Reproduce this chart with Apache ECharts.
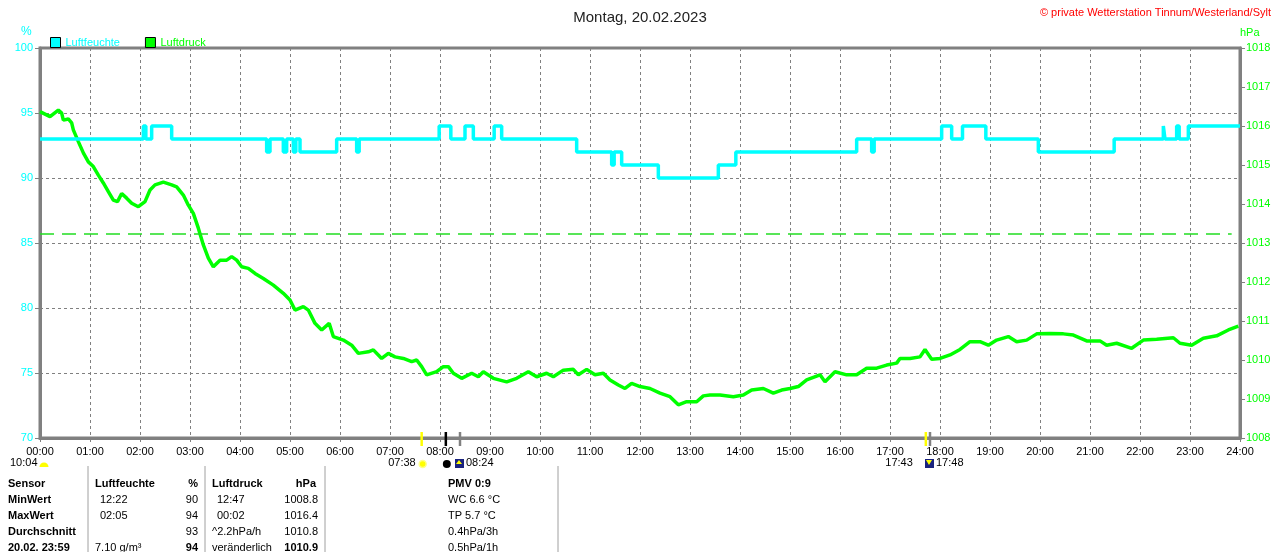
<!DOCTYPE html>
<html><head><meta charset="utf-8">
<script src="https://cdn.jsdelivr.net/npm/echarts@6/dist/echarts.min.js"></script>
<style>html,body{margin:0;padding:0;background:#fff}#c{width:1280px;height:552px}</style>
</head><body><div id="c"></div>
<script>
// ---- data ----
const hourTicks = ['00:00','01:00','02:00','03:00','04:00','05:00','06:00','07:00','08:00','09:00','10:00','11:00','12:00','13:00','14:00','15:00','16:00','17:00','18:00','19:00','20:00','21:00','22:00','23:00','24:00'];
// humidity (%) step changes: minute of day -> value from that minute
const humTimes = [0,124,127,134,158,272,276,292,296,304,307,312,356,380,383,479,493,510,520,545,554,644,686,689,698,742,814,835,980,998,1001,1082,1094,1107,1135,1198,1289,1348,1350,1364,1367,1378,1440];
const humValues = [93,94,93,94,93,92,93,92,93,92,93,92,93,92,93,94,93,94,93,94,93,92,91,92,91,90,91,92,93,92,93,94,93,94,93,92,93,94,93,94,93,94,94];
// pressure (hPa)
const pressTimes = [0,12,22,26,28,34,38,40,46,52,58,64,70,76,82,88,93,98,104,110,118,126,132,138,148,158,164,172,178,184,190,196,202,208,216,224,230,236,242,250,258,268,280,292,300,306,316,322,330,338,347,352,364,374,382,394,400,410,418,426,436,446,452,458,464,476,484,490,496,506,518,526,532,544,560,572,586,596,608,616,628,640,646,656,666,676,684,694,702,710,720,732,744,756,766,776,788,796,804,816,832,844,854,868,880,890,900,910,920,936,942,954,968,980,992,1004,1016,1028,1032,1044,1056,1062,1070,1080,1092,1104,1116,1128,1138,1148,1162,1172,1184,1196,1212,1228,1240,1256,1272,1280,1292,1310,1324,1340,1360,1368,1382,1396,1412,1426,1438];
const pressValues = [1016.37,1016.24,1016.41,1016.33,1016.15,1016.18,1016.08,1015.90,1015.60,1015.31,1015.08,1014.96,1014.74,1014.54,1014.32,1014.10,1014.06,1014.27,1014.15,1014.02,1013.93,1014.06,1014.36,1014.49,1014.56,1014.49,1014.44,1014.23,1013.97,1013.76,1013.38,1012.95,1012.61,1012.39,1012.56,1012.56,1012.65,1012.56,1012.39,1012.35,1012.22,1012.09,1011.92,1011.71,1011.54,1011.28,1011.37,1011.28,1010.94,1010.77,1010.94,1010.60,1010.51,1010.38,1010.17,1010.21,1010.26,1010.04,1010.17,1010.08,1010.04,1009.96,1010.00,1009.83,1009.62,1009.70,1009.83,1009.83,1009.66,1009.53,1009.66,1009.57,1009.70,1009.53,1009.44,1009.53,1009.70,1009.57,1009.66,1009.57,1009.74,1009.76,1009.62,1009.76,1009.62,1009.66,1009.49,1009.36,1009.27,1009.40,1009.32,1009.27,1009.15,1009.06,1008.85,1008.93,1008.93,1009.08,1009.10,1009.10,1009.06,1009.10,1009.23,1009.27,1009.15,1009.23,1009.27,1009.32,1009.49,1009.62,1009.44,1009.70,1009.62,1009.62,1009.79,1009.79,1009.87,1009.92,1010.04,1010.04,1010.08,1010.27,1010.02,1010.04,1010.13,1010.27,1010.47,1010.47,1010.38,1010.51,1010.60,1010.47,1010.51,1010.67,1010.68,1010.67,1010.64,1010.49,1010.49,1010.38,1010.43,1010.30,1010.51,1010.53,1010.57,1010.43,1010.38,1010.56,1010.62,1010.77,1010.87];
const refPressure = 1013.25;
const humTicks = [70,75,80,85,90,95,100];
const pressTicks = [1008,1009,1010,1011,1012,1013,1014,1015,1016,1017,1018];
// sun / moon event markers on the time axis (minutes) and colours
const eventTimes = [458, 487, 504, 1063, 1068];
const eventColors = ['#FFFF00', '#000000', '#808080', '#FFFF00', '#808080'];
// statistics table
const tableRows = [
  ['Sensor','Luftfeuchte','%','Luftdruck','hPa','PMV 0:9'],
  ['MinWert','12:22','90','12:47','1008.8','WC 6.6 °C'],
  ['MaxWert','02:05','94','00:02','1016.4','TP 5.7 °C'],
  ['Durchschnitt','','93','^2.2hPa/h','1010.8','0.4hPa/3h'],
  ['20.02. 23:59','7.10 g/m³','94','veränderlich','1010.9','0.5hPa/1h']
];

// ---- chart ----
const FONT = 'Liberation Sans, Arial, sans-serif';
const chart = echarts.init(document.getElementById('c'), null, {renderer:'canvas'});
const humData = humTimes.map((t,i)=>[t, humValues[i]]);
const pressData = pressTimes.map((t,i)=>[t, pressValues[i]]);

chart.setOption({
  animation:false,
  backgroundColor:'#fff',
  textStyle:{fontFamily:FONT},
  title:[
    {text:'Montag, 20.02.2023', left:'center', top:5, textStyle:{fontSize:15, fontWeight:'normal', color:'#222', fontFamily:FONT}},
    {text:'© private Wetterstation Tinnum/Westerland/Sylt', right:4, top:2, textStyle:{fontSize:11, fontWeight:'normal', color:'#FF0000', fontFamily:FONT}}
  ],
  legend:{
    left:45, top:32, icon:'rect', itemWidth:10, itemHeight:10, itemGap:25,
    itemStyle:{borderColor:'#000', borderWidth:1},
    textStyle:{fontSize:11, fontFamily:FONT},
    data:[{name:'Luftfeuchte', textStyle:{color:'#00FFFF'}},{name:'Luftdruck', textStyle:{color:'#00FF00'}}]
  },
  grid:{left:40, right:40, top:48, bottom:114, show:true, borderColor:'#808080', borderWidth:3, containLabel:false},
  xAxis:{
    type:'value', min:0, max:1440, interval:60,
    axisLine:{show:true, lineStyle:{color:'#808080', width:3}},
    axisTick:{show:true, inside:false, length:4, lineStyle:{color:'#808080'}},
    axisLabel:{color:'#000', fontSize:11, margin:8, fontFamily:FONT, formatter:(v)=>hourTicks[Math.round(v/60)]},
    splitLine:{show:true, lineStyle:{color:'#808080', type:[3,3], width:1}}
  },
  yAxis:[
    {type:'value', min:humTicks[0], max:humTicks[humTicks.length-1], interval:5, position:'left',
     axisLine:{show:true, lineStyle:{color:'#808080', width:3}},
     axisTick:{show:true, length:5, lineStyle:{color:'#808080'}},
     axisLabel:{color:'#00FFFF', fontSize:11, margin:7, fontFamily:FONT, formatter:(v)=>String(v)},
     splitLine:{show:true, lineStyle:{color:'#808080', type:[3,3], width:1}}},
    {type:'value', min:pressTicks[0], max:pressTicks[pressTicks.length-1], interval:1, position:'right',
     axisLine:{show:true, lineStyle:{color:'#808080', width:3}},
     axisTick:{show:true, length:5, lineStyle:{color:'#808080'}},
     axisLabel:{color:'#00FF00', fontSize:11, margin:6, fontFamily:FONT, formatter:(v)=>String(v)},
     splitLine:{show:false}}
  ],
  series:[
    {name:'Luftdruck', type:'line', yAxisIndex:1, data:pressData, showSymbol:false, symbol:'none',
     lineStyle:{color:'#00FF00', width:3.5}, itemStyle:{color:'#00FF00'}, z:3,
     markLine:{silent:true, symbol:'none', label:{show:false},
       lineStyle:{color:'#22DD22', type:[14,8], width:1.5},
       data:[[{coord:[0,refPressure]},{coord:[1430,refPressure]}]]}},
    {name:'Luftfeuchte', type:'line', yAxisIndex:0, data:humData, step:'end', showSymbol:false, symbol:'none',
     lineStyle:{color:'#00FFFF', width:3.5}, itemStyle:{color:'#00FFFF'}, z:4}
  ]
});

// ---- annotations placed via the axis scale ----
function px(t){ return chart.convertToPixel({xAxisIndex:0}, t); }
const g = [];
const axisY = chart.convertToPixel({yAxisIndex:0}, humTicks[0]);
eventTimes.forEach((t,i)=>{
  const x = px(t);
  g.push({type:'line', shape:{x1:x,y1:axisY-6,x2:x,y2:axisY+8}, style:{stroke:eventColors[i], lineWidth:2.5}, z:10});
});
// axis names
g.push({type:'text', left:21, top:26, style:{text:'%', fill:'#00FFFF', font:'12px '+FONT}});
g.push({type:'text', left:1240, top:27, style:{text:'hPa', fill:'#00FF00', font:'11px '+FONT}});
// day length label
g.push({type:'text', left:10, top:457, style:{text:'10:04', fill:'#000', font:'11px '+FONT}});
g.push({type:'sector', shape:{cx:44, cy:467, r0:0, r:4.5, startAngle:Math.PI, endAngle:2*Math.PI}, style:{fill:'#FFFF00'}});
// sunrise / moon
const sr = px(eventTimes[0]), mn = px(eventTimes[1]), mr = px(eventTimes[2]), ss = px(eventTimes[3]), ms = px(eventTimes[4]);
g.push({type:'text', style:{x:sr-6, y:457, text:'07:38', fill:'#000', font:'11px '+FONT, textAlign:'right'}});
g.push({type:'circle', shape:{cx:sr+1, cy:464, r:3.5}, style:{fill:'#FFFF00', stroke:'#FFFF88', lineWidth:1.5}});
g.push({type:'circle', shape:{cx:mn+1, cy:464, r:4}, style:{fill:'#000'}});
g.push({type:'rect', shape:{x:mr-5, y:459, width:9, height:9}, style:{fill:'#1a237e'}});
g.push({type:'polygon', shape:{points:[[mr-1,460],[mr+2,464],[mr-4,464]]}, style:{fill:'#FFFF00'}});
g.push({type:'text', style:{x:mr+6, y:457, text:'08:24', fill:'#000', font:'11px '+FONT}});
g.push({type:'text', style:{x:ss-13, y:457, text:'17:43', fill:'#000', font:'11px '+FONT, textAlign:'right'}});
g.push({type:'rect', shape:{x:ms-5, y:459, width:9, height:9}, style:{fill:'#1a237e'}});
g.push({type:'polygon', shape:{points:[[ms-4,460],[ms+2,460],[ms-1,465]]}, style:{fill:'#FFFF00'}});
g.push({type:'text', style:{x:ms+6, y:457, text:'17:48', fill:'#000', font:'11px '+FONT}});
// table separators
[88,205,325,558].forEach(x=>{
  g.push({type:'line', shape:{x1:x,y1:466,x2:x,y2:552}, style:{stroke:'#a0a0a0', lineWidth:1}});
});
// table text
const colX = [8, 95, 198, 212, 318, 448];
const colAlign = ['left','left','right','left','right','left'];
tableRows.forEach((row, r)=>{
  const y = 484 + r*16;
  row.forEach((txt, c)=>{
    if(!txt) return;
    let bold = (r===0) || (c===0) || (r===4 && (c===2 || c===4));
    let x = colX[c];
    if(r>0 && (c===1 || c===3) && /^\d\d:\d\d$/.test(txt)) x += 5;
    if(r===0 && c===4) x = 316;
    g.push({type:'text', style:{x:x, y:y, text:txt, fill:'#000', textAlign:colAlign[c], textVerticalAlign:'middle',
      font:(bold?'bold ':'')+'11px '+FONT}});
  });
});
chart.setOption({graphic:g});
</script>
</body></html>
